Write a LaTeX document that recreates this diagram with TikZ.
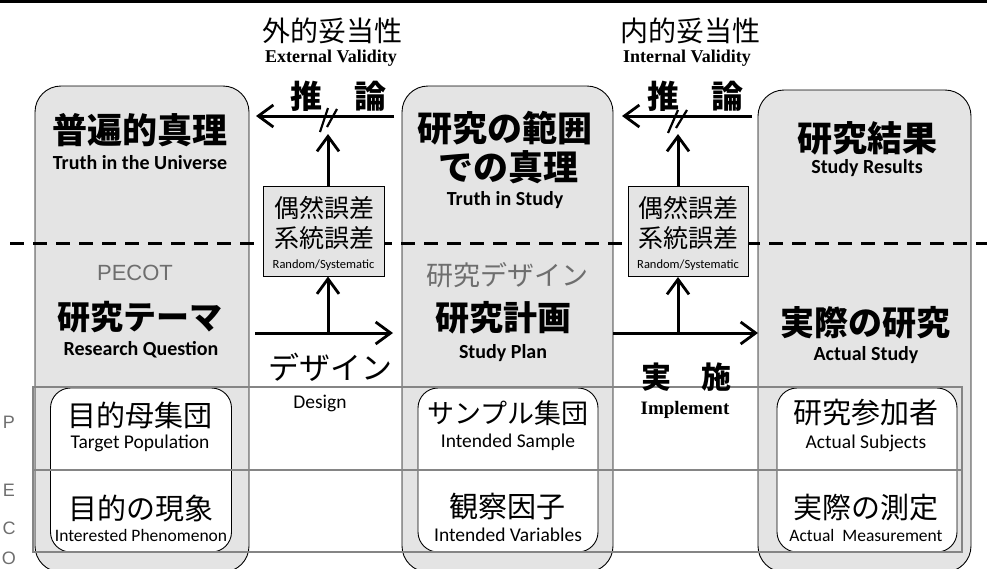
\documentclass[tikz,border=0pt]{standalone}
\usepackage{fontspec}
\setmainfont{Carlito}
\newfontfamily\jp{Noto Sans CJK JP}
\newfontfamily\tms{Liberation Serif}
\newfontfamily\ars{Liberation Sans}
\usetikzlibrary{arrows.meta}
\definecolor{stip}{HTML}{E4E4E4}
\definecolor{gline}{HTML}{858585}
\definecolor{gtxt}{HTML}{6E6E6E}
\newcommand{\fs}[1]{\fontsize{#1}{#1}\selectfont}
\begin{document}
\begin{tikzpicture}[x=1pt,y=-1pt,
  col/.style={draw=black, line width=0.9pt, fill=stip, rounded corners=26pt, minimum height=486pt, inner sep=0pt},
  innerbox/.style={draw=black, line width=0.9pt, fill=white, rounded corners=20pt, minimum height=164pt, minimum width=181pt, inner sep=0pt},
  errbox/.style={draw=black, line width=0.9pt, fill=stip, minimum height=90pt, minimum width=121pt, inner sep=0pt},
  tline/.style={draw=gline, line width=2.6pt},
  arr/.style={line width=3pt, -{Straight Barb[length=15pt,width=22pt,line width=2.8pt]}},
  brk/.style={line width=2.2pt},
  t/.style={inner sep=0pt, anchor=center},
  bigb/.style={t, font=\jp\bfseries\fs{35}},
  midb/.style={t, font=\jp\bfseries\fs{34}},
  grayj/.style={t, font=\jp\fs{27}, text=gtxt},
  engb/.style={t, font=\bfseries\fs{20}},
  innj/.style={t, font=\jp\fs{29}},
  inne/.style={t, font=\fs{19.5}},
  errj/.style={t, font=\jp\fs{25}},
  topj/.style={t, font=\jp\fs{28}},
  tmsb/.style={t, font=\tms\bfseries\fs{18}},
  suiron/.style={t, font=\jp\bfseries\fs{32}},
  side/.style={t, font=\ars\fs{18}, text=gtxt}
]
\useasboundingbox (0,0) rectangle (987,568);
\fill[black] (0,0) rectangle (987,2.5);

% columns
\node[col, minimum width=214pt] (c1) at (142,329) {};
\node[col, minimum width=211pt] (c2) at (507.5,329) {};
\node[col, minimum width=213pt, minimum height=482pt] (c3) at (864.5,331) {};

% inner white boxes
\node[innerbox] (i1) at (141,470) {};
\node[innerbox, minimum width=180pt] (i2) at (508,470) {};
\node[innerbox, minimum width=180pt] (i3) at (867,470) {};

% table lines
\draw[tline] (33,387) rectangle (962,552);
\draw[tline] (33,470) -- (962,470);

% dashed line
\draw[line width=3pt, dash pattern=on 14pt off 9pt] (10,243) -- (987,243);

% error boxes
\node[errbox] (e1) at (323.5,231) {};
\node[errbox, minimum width=120pt] (e2) at (688,231.5) {};

% coordinates for arrows
\coordinate (dL0) at (255,333);  \coordinate (dL1) at (393,333);
\coordinate (dR0) at (613,333);  \coordinate (dR1) at (758,333);
\coordinate (uL0) at (328,333);  \coordinate (uL1) at (328,276.5);
\coordinate (uR0) at (678,333);  \coordinate (uR1) at (678,277);
\coordinate (vL0) at (328,186);  \coordinate (vL1) at (328,134);
\coordinate (vR0) at (678,186.5);  \coordinate (vR1) at (678,134);
\coordinate (hL0) at (394,116);  \coordinate (hL1) at (256,116);
\coordinate (hR0) at (752,116);  \coordinate (hR1) at (622,116);

\draw[arr] (dL0) -- (dL1);
\draw[arr] (dR0) -- (dR1);
\draw[arr] (uL0) -- (uL1);
\draw[arr] (uR0) -- (uR1);
\draw[arr] (vL0) -- (vL1);
\draw[arr] (vR0) -- (vR1);
\draw[arr] (hL0) -- (hL1);
\draw[arr] (hR0) -- (hR1);

% break marks
\coordinate (bL1a) at (320,132); \coordinate (bL1b) at (328,108);
\coordinate (bL2a) at (327,127); \coordinate (bL2b) at (337,109);
\coordinate (bR1a) at (668,133); \coordinate (bR1b) at (678,110);
\coordinate (bR2a) at (676,128); \coordinate (bR2b) at (687,110);
\draw[brk] (bL1a) -- (bL1b);
\draw[brk] (bL2a) -- (bL2b);
\draw[brk] (bR1a) -- (bR1b);
\draw[brk] (bR2a) -- (bR2b);

% top labels
\node[topj] (ext) at (332,31) {外的妥当性};
\node[tmsb] (exte) at (331,58) {External Validity};
\node[topj] (int) at (690,31) {内的妥当性};
\node[tmsb] (inte) at (687,58) {Internal Validity};
\node[suiron] (sr1) at (338,96) {推　論};
\node[suiron] (sr2) at (695,96) {推　論};

% left column
\node[bigb] (u1) at (140,130) {普遍的真理};
\node[engb] (u1e) at (140,163) {Truth in the Universe};
\node[t, font=\ars\fs{22}, text=gtxt] (pecot) at (135,273) {PECOT};
\node[midb, font=\jp\bfseries\fs{33}] (rq) at (140,317) {研究テーマ};
\node[engb] (rqe) at (141,350) {Research Question};
\node[innj] (tp) at (140,415) {目的母集団};
\node[inne] (tpe) at (140,443) {Target Population};
\node[innj] (ip) at (141,508) {目的の現象};
\node[inne, font=\fs{17.5}] (ipe) at (141,535) {Interested Phenomenon};

% middle column
\node[bigb] (m1) at (505,128) {研究の範囲};
\node[bigb] (m2) at (508,167) {での真理};
\node[engb] (m2e) at (505,200) {Truth in Study};
\node[grayj] (rd) at (507,275) {研究デザイン};
\node[midb] (sp) at (503,318) {研究計画};
\node[engb] (spe) at (503,353) {Study Plan};
\node[innj, font=\jp\fs{27}] (is) at (508,413) {サンプル集団};
\node[inne] (ise) at (508,442) {Intended Sample};
\node[innj] (iv) at (507,507) {観察因子};
\node[inne] (ive) at (508,535) {Intended Variables};

% right column
\node[bigb] (r1) at (867,138) {研究結果};
\node[engb] (r1e) at (867,168) {Study Results};
\node[midb] (as) at (865,323) {実際の研究};
\node[engb] (ase) at (866,355) {Actual Study};
\node[innj] (asu) at (866,413) {研究参加者};
\node[inne] (asue) at (866,443) {Actual Subjects};
\node[innj] (am) at (866,508) {実際の測定};
\node[inne, font=\fs{17.5}] (ame) at (866,535) {Actual\ \ Measurement};

% error box texts
\node[errj] (g1) at (324,208) {偶然誤差};
\node[errj] (k1) at (324,238) {系統誤差};
\node[t, font=\fs{12.5}] (rs1) at (323.5,265) {Random/Systematic};
\node[errj] (g2) at (688,208) {偶然誤差};
\node[errj] (k2) at (688,238) {系統誤差};
\node[t, font=\fs{12.5}] (rs2) at (688,265) {Random/Systematic};

% design / implement
\node[t, font=\jp\fs{31}] (des) at (330,367) {デザイン};
\node[inne] (dese) at (320,403) {Design};
\node[t, font=\jp\bfseries\fs{30}] (imp) at (686,377) {実　施};
\node[tmsb, font=\tms\bfseries\fs{19}] (impe) at (685,410) {Implement};

% side letters
\node[side] (sP) at (9,422) {P};
\node[side] (sE) at (9,490) {E};
\node[side] (sC) at (9,528) {C};
\node[side] (sO) at (9,558) {O};
\end{tikzpicture}
\end{document}
